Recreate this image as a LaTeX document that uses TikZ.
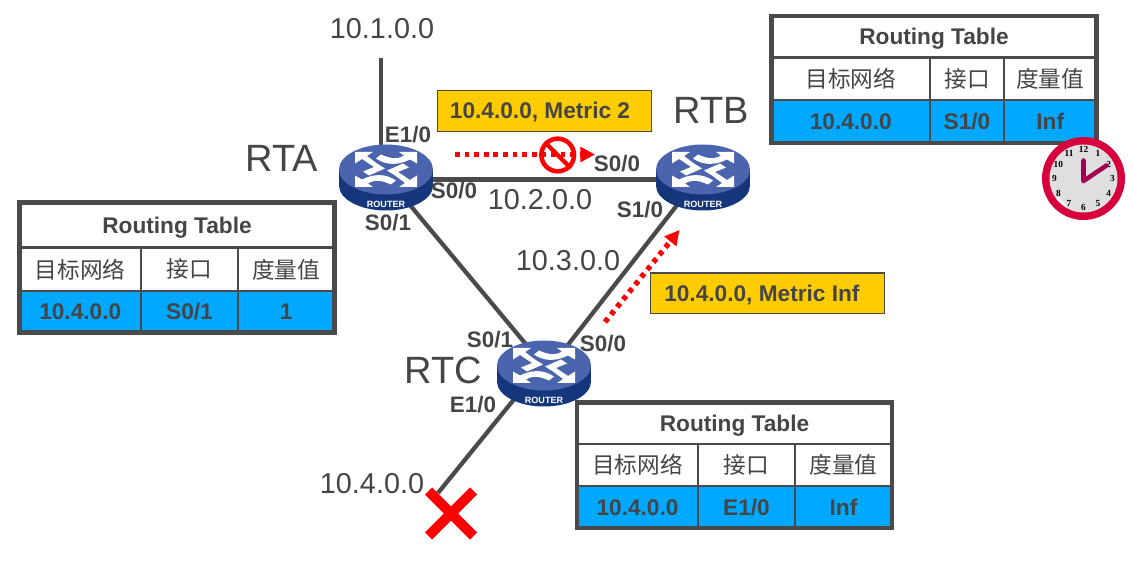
\documentclass[tikz,border=0pt]{standalone}
\usepackage{fontspec}
\usepackage{xcolor,tikz}
\usetikzlibrary{arrows.meta,positioning}
\setmainfont{Liberation Sans}
\newfontfamily\cjk{Noto Sans CJK SC}
\newfontfamily\clockfont{Liberation Serif}
\definecolor{linegray}{HTML}{4A4A4A}
\definecolor{textgray}{HTML}{454545}
\definecolor{cellblue}{HTML}{00A8FF}
\definecolor{noteyellow}{HTML}{FFCC00}
\definecolor{routertop}{HTML}{4A64AD}
\definecolor{routerside}{HTML}{15367A}
\definecolor{clockred}{HTML}{D8003C}
\definecolor{clockhand}{HTML}{A3004F}
\tikzset{routericon/.pic={
  \fill[routerside] (0,6) ellipse [x radius=47,y radius=25];
  \fill[routerside] (-47,-10) rectangle (47,6);
  \fill[routertop] (0,-10) ellipse [x radius=47,y radius=25];
  \foreach \s in {1,-1} {
    \begin{scope}[yshift=7.5pt,xscale=\s,yscale=\s]
    \fill[white] (-31,-17.5) -- (-13,-17.5) -- (-19,-13.5) -- (-9,-6) -- (-1,-1) -- (-17,6) -- (-23,2) -- (-12,-2.5) -- (-24,-10.5) -- (-31,-6) -- cycle;
    \fill[white] (31,-17.5) -- (13,-17.5) -- (18,-14) .. controls (10,-9) and (2,-12) .. (-5,-15) -- (-10,-11) .. controls (0,-4) and (12,-4) .. (24,-10) -- (31,-6) -- cycle;
    \end{scope}
  }
  \node[text=white,font=\bfseries\fontsize{6.8}{7}\selectfont,inner sep=0] (-label) at (0,24.5) {ROUTER};
}}
\newcommand{\routingtable}[9]{
  \fill[white] (0,0) rectangle (#4,#7);
  \fill[cellblue] (0,#6) rectangle (#4,#7);
  \draw[thinrule] (0,#5) -- (#4,#5) (0,#6) -- (#4,#6);
  \draw[thinrule] (#2,#5) -- (#2,#7) (#3,#5) -- (#3,#7);
  \draw[tablerim] (0,0) rectangle (#4,#7);
  \node[cellhead] (#1-title) at (#4/2,#5/2) {Routing Table};
  \node[cellcjk] (#1-dest) at (#2/2,{(#5+#6)/2}) {目标网络};
  \node[cellcjk] (#1-port) at ({(#2+#3)/2},{(#5+#6)/2}) {接口};
  \node[cellcjk] (#1-cost) at ({(#3+#4)/2},{(#5+#6)/2}) {度量值};
  \node[cellhead] (#1-net) at (#2/2,{(#6+#7)/2}) {10.4.0.0};
  \node[cellhead] (#1-iface) at ({(#2+#3)/2},{(#6+#7)/2}) {#8};
  \node[cellhead] (#1-metric) at ({(#3+#4)/2},{(#6+#7)/2}) {#9};
}

\begin{document}
\begin{tikzpicture}[x=0.75pt,y=-0.75pt,
  routerbase/.style={minimum width=70.5pt,minimum height=48.75pt,inner sep=0},
  link/.style={linegray,line width=3.2pt},
  signal/.style={red,line width=4pt,dash pattern=on 3.6pt off 3.6pt,-{Triangle[length=11pt,width=11pt]}},
  bignet/.style={text=textgray,font=\fontsize{21.6}{24}\selectfont,inner sep=0},
  routername/.style={text=textgray,font=\fontsize{28.5}{30}\selectfont,inner sep=0},
  portlab/.style={text=textgray,font=\bfseries\fontsize{16.8}{18}\selectfont,inner sep=0},
  metricnote/.style={draw=linegray,fill=noteyellow,line width=.8pt,minimum height=30.5pt,inner sep=0,anchor=north west},
  notetext/.style={text=textgray,font=\bfseries\fontsize{17}{18}\selectfont,inner sep=0,anchor=west,text height=12pt,text depth=0pt},
  thinrule/.style={linegray,line width=1.9pt},
  tablerim/.style={linegray,line width=3.4pt},
  cellhead/.style={text=textgray,font=\bfseries\fontsize{17}{18}\selectfont,inner sep=0,text height=12pt,text depth=0pt},
  cellcjk/.style={text=textgray,font=\cjk\fontsize{17}{18}\selectfont,inner sep=0}]
\useasboundingbox (0,0) rectangle (1132,584);
\fill[white] (0,0) rectangle (1132,584);
% routers and free ends
\node[routerbase] (rta) at (386,179.5) {};
\node[routerbase] (rtb) at (703,179.5) {};
\node[routerbase] (rtc) at (544,375.5) {};
\coordinate (net1) at (381,58);
\coordinate (net4) at (438,493);
% links
\draw[link] (net1) -- (net1 |- rta.center);
\draw[link,line width=3.6pt] (rta) -- (rtb);
\draw[link] ([xshift=2pt]rta.center) -- ([xshift=6pt]rtc.center);
\draw[link] ([xshift=-4.5pt]rtb.center) -- (rtc.center);
\draw[link] ([xshift=-8pt]rtc.center) -- (net4);
\pic (rtaicon) at (rta) {routericon};
\pic (rtbicon) at (rtb) {routericon};
\pic (rtcicon) at (rtc) {routericon};
% labels
\node[bignet] (lab1) at (382,29) {10.1.0.0};
\node[bignet] (lab2) at (540,200) {10.2.0.0};
\node[bignet] (lab3) at (568,261) {10.3.0.0};
\node[bignet] (lab4) at (372,484) {10.4.0.0};
\node[routername] (nameA) at (282,158.5) {RTA};
\node[routername] (nameB) at (711,110.5) {RTB};
\node[routername] (nameC) at (443,370.5) {RTC};
\node[portlab] (pA1) at (408,134.5) {E1/0};
\node[portlab] (pA2) at (454,190.5) {S0/0};
\node[portlab] (pA3) at (388,222.5) {S0/1};
\node[portlab] (pB1) at (617,163.5) {S0/0};
\node[portlab] (pB2) at (640,209.5) {S1/0};
\node[portlab] (pC1) at (490,339.5) {S0/1};
\node[portlab] (pC2) at (603,343.5) {S0/0};
\node[portlab] (pC3) at (473,404.5) {E1/0};
% updates
\node[metricnote,minimum width=160.5pt] (note1) at (437,90) {};
\node[notetext] (note1text) at ([xshift=9.5pt]note1.west) {10.4.0.0, Metric 2};
\node[metricnote,minimum width=175.5pt] (note2) at (650,272.5) {};
\node[notetext] (note2text) at ([xshift=10.5pt]note2.west) {10.4.0.0, Metric Inf};
\coordinate (s1) at (455,154.5);
\coordinate (e1) at (595,154.5);
\coordinate (s2) at (605,322);
\coordinate (e2) at (679.5,230);
\draw[signal] (s1) -- (e1);
\draw[signal] (s2) -- (e2);
\node[circle,draw=red,line width=3.4pt,minimum size=24.5pt,inner sep=0] (stop) at (557.7,155) {};
\draw[red,line width=3.2pt] (stop.135) -- (stop.-45);
% dead network
\draw[red,line width=7.5pt] (428.5,491) -- (473.5,536) (473.5,491) -- (428.5,536);
% tables
\begin{scope}[shift={(771.5,16)}]
\routingtable{tabB}{158.5}{232.5}{325}{41.7}{84}{127}{S1/0}{Inf}
\end{scope}
\begin{scope}[shift={(19.5,202.5)}]
\routingtable{tabA}{121.5}{218.5}{315}{45.2}{88.5}{130}{S0/1}{1}
\end{scope}
\begin{scope}[shift={(577,402.5)}]
\routingtable{tabC}{121}{218}{315}{41.5}{83.5}{125.5}{E1/0}{Inf}
\end{scope}
% clock
\begin{scope}[shift={(1083.5,178.5)}]
\fill[clockred] (0,0) circle [radius=41.5];
\fill[gray!25] (0,0) circle [radius=34];
\foreach \h in {1,...,12} {
  \node[font=\clockfont\bfseries\fontsize{7}{8}\selectfont,inner sep=0,text=black] (hour\h) at ({29*sin(30*\h)},{-29*cos(30*\h)}) {\h};
}
\draw[white,line width=1.8pt,line cap=round] (-26,20) -- (-19,26);
\draw[clockhand,line width=3.4pt,line cap=round] (0,2.5) -- (0,-18) (0,2.5) -- (23,-13);
\end{scope}
\end{tikzpicture}
\end{document}
